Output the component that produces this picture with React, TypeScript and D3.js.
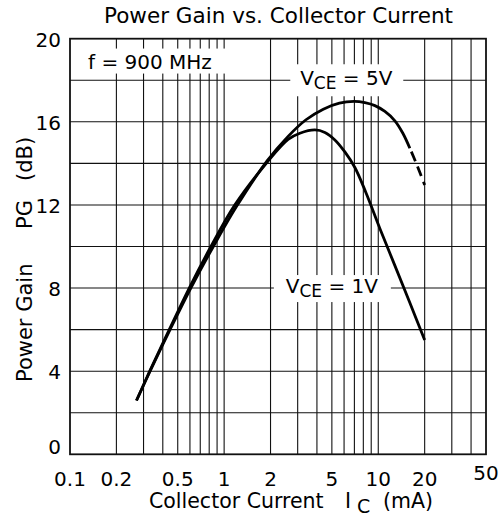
import React from 'react';
import * as d3 from 'd3';

const W = 502;
const H = 518;

// Power gain (dB) vs collector current (mA)
const current5V = [0.27, 0.3307, 0.4459, 0.6081, 0.8511, 1.202, 1.9, 2.6, 3.397, 4.399, 5.594, 6.998, 8.19, 9.51, 11.04, 12.82, 14.44, 16.03];
const gain5V = [2.59, 4.0, 6.0, 8.0, 10.0, 11.92, 14.12, 15.3, 16.1, 16.61, 16.9, 16.98, 16.92, 16.78, 16.5, 16.05, 15.45, 14.73];
// extrapolated (dashed) tail of the 5V curve
const current5VDash = [16.03, 17.8, 20.0];
const gain5VDash = [14.73, 13.93, 12.96];

const current1V = [0.27, 0.3292, 0.4405, 0.5938, 0.821, 1.166, 1.9, 2.6, 3.1, 3.88, 4.505, 5.23, 6.073, 7.05, 8.31, 10.24, 12.82, 16.03, 20.0];
const gain1V = [2.59, 4.0, 6.0, 8.0, 10.0, 11.97, 14.05, 15.15, 15.45, 15.61, 15.49, 15.13, 14.55, 13.8, 12.6, 10.87, 9.08, 7.29, 5.5];

const xTicks = [0.1, 0.2, 0.5, 1, 2, 5, 10, 20, 50];
const xGrid = [0.2, 0.3, 0.4, 0.5, 0.6, 0.7, 0.8, 0.9, 1, 2, 3, 4, 5, 6, 7, 8, 9, 10, 20, 30, 40];
const yTicks = [0, 4, 8, 12, 16, 20];
const yGrid = [2, 4, 6, 8, 10, 12, 14, 16, 18];

const FONT = "'DejaVu Sans', 'Liberation Sans', Arial, sans-serif";

export default function App() {
  const x = d3.scaleLog().domain([0.1, 50]).range([70, 486]);
  const y = d3.scaleLinear().domain([0, 20]).range([454.3, 38.7]);

  const line = d3
    .line<[number, number]>()
    .x((d) => x(d[0]))
    .y((d) => y(d[1]))
    .curve(d3.curveCatmullRom.alpha(0.5));

  const pts = (xs: number[], ys: number[]) => xs.map((v, i) => [v, ys[i]] as [number, number]);

  const [x0, x1] = x.range();
  const [y0, y1] = y.range();

  // label boxes anchored in data space
  const fBox = { cx: x(0.33), cy: y(18.9) };
  const v5Box = { cx: x(6.2), cy: y(18) };
  const v1Box = { cx: x(5.0), cy: y(8) };

  return (
    <svg width={W} height={H} style={{ position: 'absolute', left: 0, top: 0, background: '#fff' }} fontFamily={FONT}>
      <rect x={0} y={0} width={W} height={H} fill="#fff" />

      {/* grid */}
      {xGrid.map((v) => (
        <line key={'gx' + v} x1={x(v)} x2={x(v)} y1={y0} y2={y1} stroke="#111" strokeWidth={1.1} />
      ))}
      {yGrid.map((v) => (
        <line key={'gy' + v} x1={x0} x2={x1} y1={y(v)} y2={y(v)} stroke="#111" strokeWidth={1.1} />
      ))}

      {/* white boxes behind in-plot labels */}
      <rect x={fBox.cx - 75} y={fBox.cy - 13} width={151} height={25} fill="#fff" />
      <rect x={v5Box.cx - 56} y={v5Box.cy - 16} width={113} height={32} fill="#fff" />
      <rect x={v1Box.cx - 58} y={v1Box.cy - 13} width={117} height={27} fill="#fff" />

      {/* frame */}
      <rect x={x0} y={y1} width={x1 - x0} height={y0 - y1} fill="none" stroke="#111" strokeWidth={1.8} />

      {/* curves */}
      <path d={line(pts(current5V, gain5V)) || ''} fill="none" stroke="#000" strokeWidth={2.8} />
      <path d={line(pts(current5VDash, gain5VDash)) || ''} fill="none" stroke="#000" strokeWidth={2.8} strokeDasharray="10,6" strokeDashoffset={-4} />
      <path d={line(pts(current1V, gain1V)) || ''} fill="none" stroke="#000" strokeWidth={2.8} />

      {/* labels */}
      <text x={fBox.cx} y={fBox.cy + 7} fontSize={20} textAnchor="middle" fill="#000">f = 900 MHz</text>
      <text x={v5Box.cx} y={v5Box.cy + 5} fontSize={20} textAnchor="middle" fill="#000">
        V<tspan fontSize={17} dy={4}>CE</tspan><tspan dy={-4}> = 5V</tspan>
      </text>
      <text x={v1Box.cx} y={v1Box.cy + 5} fontSize={20} textAnchor="middle" fill="#000">
        V<tspan fontSize={17} dy={4}>CE</tspan><tspan dy={-4}> = 1V</tspan>
      </text>

      {/* y ticks */}
      {yTicks.map((v) => (
        <text key={'yt' + v} x={x0 - 9} y={y(v) + (v === 0 ? 0 : 8)} fontSize={20} textAnchor="end" fill="#000">
          {v}
        </text>
      ))}

      {/* x ticks */}
      {xTicks.map((v) => (
        <text key={'xt' + v} x={x(v)} y={v === 50 ? 480 : 486} fontSize={20} textAnchor="middle" fill="#000">
          {v}
        </text>
      ))}

      {/* title */}
      <text x={104} y={23} fontSize={20.5} textLength={349} lengthAdjust="spacingAndGlyphs" fill="#000">
        Power Gain vs. Collector Current
      </text>

      {/* x axis title */}
      <text x={149} y={508} fontSize={20.5} fill="#000">
        Collector Current<tspan x={345}>I</tspan>
        <tspan x={357} dy={5} fontSize={19}>C</tspan>
        <tspan x={383} dy={-5}>(mA)</tspan>
      </text>

      {/* y axis title */}
      <text transform="translate(32,0) rotate(-90)" fontSize={21} fill="#000">
        <tspan x={-382}>Power Gain</tspan>
        <tspan x={-229}>PG</tspan>
        <tspan x={-181}>(dB)</tspan>
      </text>
    </svg>
  );
}
